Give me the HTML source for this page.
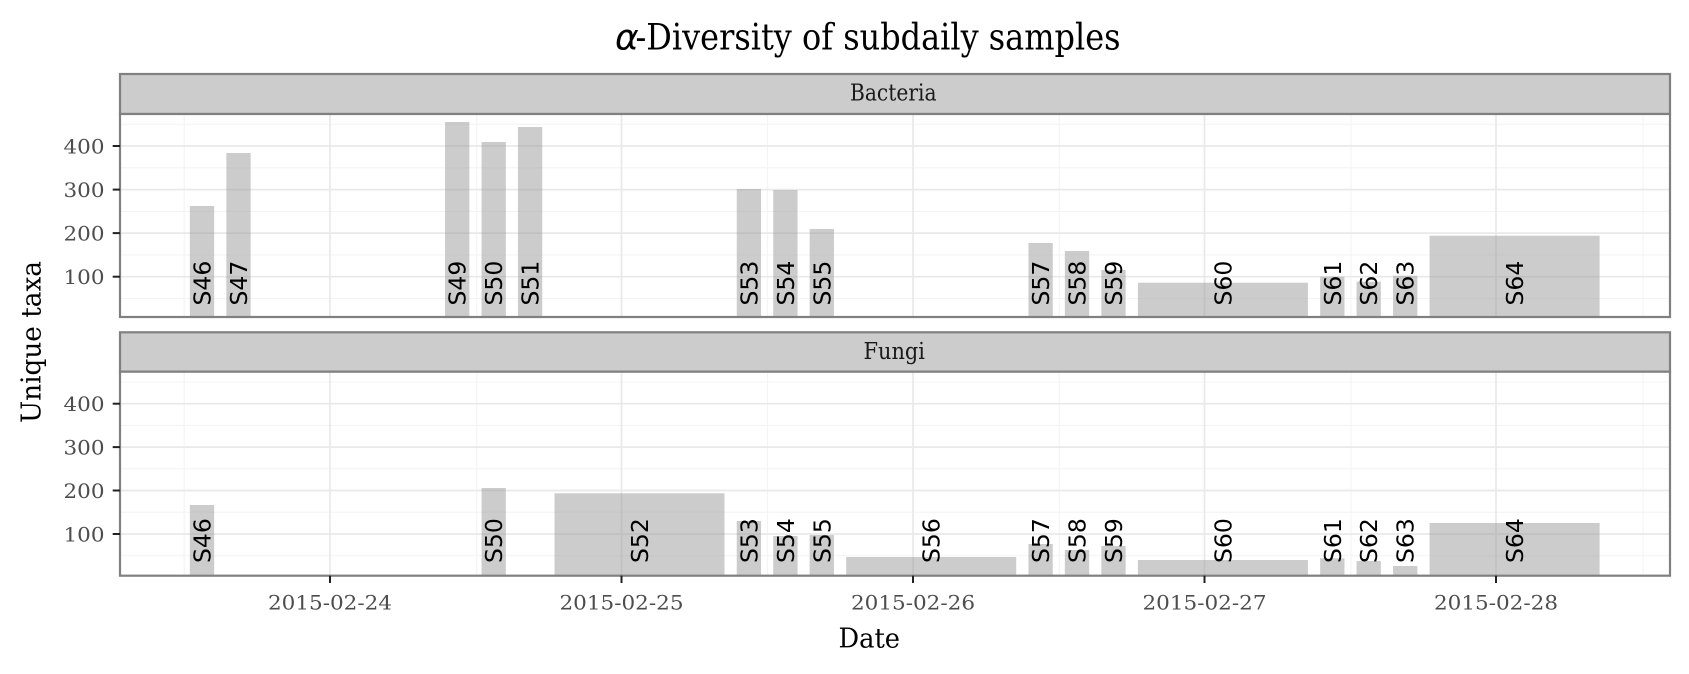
<!DOCTYPE html>
<html>
<head>
<meta charset="utf-8">
<style>
html,body{margin:0;padding:0;background:#fff;}
svg{display:block;}
</style>
</head>
<body>
<svg width="1689" height="674" viewBox="0 0 1689 674" xmlns="http://www.w3.org/2000/svg">
<rect x="0" y="0" width="1689" height="674" fill="#fff"/>

<!-- Title -->
<text x="615" y="49.3" font-family="DejaVu Sans, sans-serif" font-style="italic" font-size="36" fill="#000">α</text>
<text x="635.5" y="49.3" font-family="DejaVu Serif, serif" font-size="36" fill="#000" textLength="485" lengthAdjust="spacingAndGlyphs">-Diversity of subdaily samples</text>

<!-- ================= TOP PANEL ================= -->
<!-- strip -->
<rect x="120" y="74" width="1550" height="40" fill="#cccccc" stroke="#808080" stroke-width="2.2"/>
<text x="850" y="100.7" font-family="DejaVu Serif, serif" font-size="23" fill="#1a1a1a" textLength="86.6" lengthAdjust="spacingAndGlyphs">Bacteria</text>

<!-- panel bg -->
<rect x="120" y="114" width="1550" height="203" fill="#fff"/>
<g stroke="#f4f4f4" stroke-width="1.1">
  <line x1="120" x2="1670" y1="298.5" y2="298.5"/>
  <line x1="120" x2="1670" y1="254.9" y2="254.9"/>
  <line x1="120" x2="1670" y1="211.4" y2="211.4"/>
  <line x1="120" x2="1670" y1="167.8" y2="167.8"/>
  <line x1="120" x2="1670" y1="124.2" y2="124.2"/>
  <line y1="114" y2="317" x1="184.2" x2="184.2"/>
  <line y1="114" y2="317" x1="476.7" x2="476.7"/>
  <line y1="114" y2="317" x1="767.5" x2="767.5"/>
  <line y1="114" y2="317" x1="1059.3" x2="1059.3"/>
  <line y1="114" y2="317" x1="1351" x2="1351"/>
  <line y1="114" y2="317" x1="1643" x2="1643"/>
</g>
<g stroke="#e9e9e9" stroke-width="1.7">
  <line x1="120" x2="1670" y1="276.7" y2="276.7"/>
  <line x1="120" x2="1670" y1="233.1" y2="233.1"/>
  <line x1="120" x2="1670" y1="189.6" y2="189.6"/>
  <line x1="120" x2="1670" y1="146" y2="146"/>
  <line y1="114" y2="317" x1="330" x2="330"/>
  <line y1="114" y2="317" x1="621.5" x2="621.5"/>
  <line y1="114" y2="317" x1="913" x2="913"/>
  <line y1="114" y2="317" x1="1204.5" x2="1204.5"/>
  <line y1="114" y2="317" x1="1496" x2="1496"/>
</g>
<!-- bars top -->
<g fill="#999999" fill-opacity="0.5">
  <rect x="189.85" y="206" width="24.3" height="111"/>
  <rect x="226.35" y="153" width="24.3" height="164"/>
  <rect x="445.05" y="122" width="24.3" height="195"/>
  <rect x="481.55" y="142" width="24.3" height="175"/>
  <rect x="517.95" y="127" width="24.3" height="190"/>
  <rect x="736.75" y="189" width="24.3" height="128"/>
  <rect x="773.25" y="190" width="24.3" height="127"/>
  <rect x="809.65" y="229" width="24.3" height="88"/>
  <rect x="1028.45" y="243" width="24.3" height="74"/>
  <rect x="1064.85" y="251" width="24.3" height="66"/>
  <rect x="1101.35" y="270" width="24.3" height="47"/>
  <rect x="1137.9" y="282.7" width="170" height="34.3"/>
  <rect x="1320.15" y="276.7" width="24.3" height="40.3"/>
  <rect x="1356.55" y="281.7" width="24.3" height="35.3"/>
  <rect x="1393.05" y="275.7" width="24.3" height="41.3"/>
  <rect x="1429.6" y="235.7" width="170" height="81.3"/>
</g>
<!-- labels top -->
<g font-family="DejaVu Sans, sans-serif" font-size="23.5" fill="#000">
  <text transform="translate(210.5,305.5) rotate(-90)">S46</text>
  <text transform="translate(247,305.5) rotate(-90)">S47</text>
  <text transform="translate(465.7,305.5) rotate(-90)">S49</text>
  <text transform="translate(502.2,305.5) rotate(-90)">S50</text>
  <text transform="translate(538.6,305.5) rotate(-90)">S51</text>
  <text transform="translate(757.4,305.5) rotate(-90)">S53</text>
  <text transform="translate(793.9,305.5) rotate(-90)">S54</text>
  <text transform="translate(830.3,305.5) rotate(-90)">S55</text>
  <text transform="translate(1049.1,305.5) rotate(-90)">S57</text>
  <text transform="translate(1085.5,305.5) rotate(-90)">S58</text>
  <text transform="translate(1122,305.5) rotate(-90)">S59</text>
  <text transform="translate(1231.4,305.5) rotate(-90)">S60</text>
  <text transform="translate(1340.8,305.5) rotate(-90)">S61</text>
  <text transform="translate(1377.2,305.5) rotate(-90)">S62</text>
  <text transform="translate(1413.7,305.5) rotate(-90)">S63</text>
  <text transform="translate(1523.1,305.5) rotate(-90)">S64</text>
</g>
<rect x="120" y="114" width="1550" height="203" fill="none" stroke="#808080" stroke-width="2.2"/>
<!-- y ticks top -->
<g stroke="#222" stroke-width="2">
  <line x1="112.7" x2="120" y1="276.7" y2="276.7"/>
  <line x1="112.7" x2="120" y1="233.1" y2="233.1"/>
  <line x1="112.7" x2="120" y1="189.6" y2="189.6"/>
  <line x1="112.7" x2="120" y1="146" y2="146"/>
</g>
<g font-family="DejaVu Serif, serif" font-size="20" fill="#4d4d4d" text-anchor="end">
  <text x="104.5" y="284.2" textLength="41" lengthAdjust="spacingAndGlyphs">100</text>
  <text x="104.5" y="240.6" textLength="41" lengthAdjust="spacingAndGlyphs">200</text>
  <text x="104.5" y="197.1" textLength="41" lengthAdjust="spacingAndGlyphs">300</text>
  <text x="104.5" y="153.5" textLength="41" lengthAdjust="spacingAndGlyphs">400</text>
</g>

<!-- ================= BOTTOM PANEL ================= -->
<rect x="120" y="332.3" width="1550" height="39.4" fill="#cccccc" stroke="#808080" stroke-width="2.2"/>
<text x="863.5" y="359" font-family="DejaVu Serif, serif" font-size="23" fill="#1a1a1a" textLength="61.5" lengthAdjust="spacingAndGlyphs">Fungi</text>

<rect x="120" y="371.7" width="1550" height="204" fill="#fff"/>
<g stroke="#f4f4f4" stroke-width="1.1">
  <line x1="120" x2="1670" y1="555.7" y2="555.7"/>
  <line x1="120" x2="1670" y1="512.3" y2="512.3"/>
  <line x1="120" x2="1670" y1="468.8" y2="468.8"/>
  <line x1="120" x2="1670" y1="425.4" y2="425.4"/>
  <line x1="120" x2="1670" y1="382" y2="382"/>
  <line y1="371.7" y2="575.7" x1="184.2" x2="184.2"/>
  <line y1="371.7" y2="575.7" x1="476.7" x2="476.7"/>
  <line y1="371.7" y2="575.7" x1="767.5" x2="767.5"/>
  <line y1="371.7" y2="575.7" x1="1059.3" x2="1059.3"/>
  <line y1="371.7" y2="575.7" x1="1351" x2="1351"/>
  <line y1="371.7" y2="575.7" x1="1643" x2="1643"/>
</g>
<g stroke="#e9e9e9" stroke-width="1.7">
  <line x1="120" x2="1670" y1="534" y2="534"/>
  <line x1="120" x2="1670" y1="490.5" y2="490.5"/>
  <line x1="120" x2="1670" y1="447.1" y2="447.1"/>
  <line x1="120" x2="1670" y1="403.7" y2="403.7"/>
  <line y1="371.7" y2="575.7" x1="330" x2="330"/>
  <line y1="371.7" y2="575.7" x1="621.5" x2="621.5"/>
  <line y1="371.7" y2="575.7" x1="913" x2="913"/>
  <line y1="371.7" y2="575.7" x1="1204.5" x2="1204.5"/>
  <line y1="371.7" y2="575.7" x1="1496" x2="1496"/>
</g>
<g fill="#999999" fill-opacity="0.5">
  <rect x="189.85" y="505" width="24.3" height="70.7"/>
  <rect x="481.55" y="488" width="24.3" height="87.7"/>
  <rect x="554.5" y="493.3" width="170" height="82.4"/>
  <rect x="736.75" y="521" width="24.3" height="54.7"/>
  <rect x="773.25" y="536" width="24.3" height="39.7"/>
  <rect x="809.65" y="535" width="24.3" height="40.7"/>
  <rect x="846.2" y="557" width="170" height="18.7"/>
  <rect x="1028.45" y="544" width="24.3" height="31.7"/>
  <rect x="1064.85" y="550" width="24.3" height="25.7"/>
  <rect x="1101.35" y="546" width="24.3" height="29.7"/>
  <rect x="1137.9" y="560" width="170" height="15.7"/>
  <rect x="1320.15" y="558.3" width="24.3" height="17.4"/>
  <rect x="1356.55" y="561" width="24.3" height="14.7"/>
  <rect x="1393.05" y="566" width="24.3" height="9.7"/>
  <rect x="1429.6" y="523" width="170" height="52.7"/>
</g>
<g font-family="DejaVu Sans, sans-serif" font-size="23.5" fill="#000">
  <text transform="translate(210.5,563) rotate(-90)">S46</text>
  <text transform="translate(502.2,563) rotate(-90)">S50</text>
  <text transform="translate(648,563) rotate(-90)">S52</text>
  <text transform="translate(757.4,563) rotate(-90)">S53</text>
  <text transform="translate(793.9,563) rotate(-90)">S54</text>
  <text transform="translate(830.3,563) rotate(-90)">S55</text>
  <text transform="translate(939.7,563) rotate(-90)">S56</text>
  <text transform="translate(1049.1,563) rotate(-90)">S57</text>
  <text transform="translate(1085.5,563) rotate(-90)">S58</text>
  <text transform="translate(1122,563) rotate(-90)">S59</text>
  <text transform="translate(1231.4,563) rotate(-90)">S60</text>
  <text transform="translate(1340.8,563) rotate(-90)">S61</text>
  <text transform="translate(1377.2,563) rotate(-90)">S62</text>
  <text transform="translate(1413.7,563) rotate(-90)">S63</text>
  <text transform="translate(1523.1,563) rotate(-90)">S64</text>
</g>
<rect x="120" y="371.7" width="1550" height="204" fill="none" stroke="#808080" stroke-width="2.2"/>
<g stroke="#222" stroke-width="2">
  <line x1="112.7" x2="120" y1="534" y2="534"/>
  <line x1="112.7" x2="120" y1="490.5" y2="490.5"/>
  <line x1="112.7" x2="120" y1="447.1" y2="447.1"/>
  <line x1="112.7" x2="120" y1="403.7" y2="403.7"/>
  <line y1="575.7" y2="583" x1="330" x2="330"/>
  <line y1="575.7" y2="583" x1="621.5" x2="621.5"/>
  <line y1="575.7" y2="583" x1="913" x2="913"/>
  <line y1="575.7" y2="583" x1="1204.5" x2="1204.5"/>
  <line y1="575.7" y2="583" x1="1496" x2="1496"/>
</g>
<g font-family="DejaVu Serif, serif" font-size="20" fill="#4d4d4d" text-anchor="end">
  <text x="104.5" y="541.5" textLength="41" lengthAdjust="spacingAndGlyphs">100</text>
  <text x="104.5" y="498" textLength="41" lengthAdjust="spacingAndGlyphs">200</text>
  <text x="104.5" y="454.6" textLength="41" lengthAdjust="spacingAndGlyphs">300</text>
  <text x="104.5" y="411.2" textLength="41" lengthAdjust="spacingAndGlyphs">400</text>
</g>
<g font-family="DejaVu Serif, serif" font-size="20" fill="#4d4d4d">
  <text x="268" y="609.3" textLength="124" lengthAdjust="spacingAndGlyphs">2015-02-24</text>
  <text x="559.5" y="609.3" textLength="124" lengthAdjust="spacingAndGlyphs">2015-02-25</text>
  <text x="851" y="609.3" textLength="124" lengthAdjust="spacingAndGlyphs">2015-02-26</text>
  <text x="1142.5" y="609.3" textLength="124" lengthAdjust="spacingAndGlyphs">2015-02-27</text>
  <text x="1434" y="609.3" textLength="124" lengthAdjust="spacingAndGlyphs">2015-02-28</text>
</g>

<!-- Axis titles -->
<text x="838.5" y="647.7" font-family="DejaVu Serif, serif" font-size="27" fill="#000" textLength="61.5" lengthAdjust="spacingAndGlyphs">Date</text>
<text transform="translate(40.4,423) rotate(-90)" font-family="DejaVu Serif, serif" font-size="27" fill="#000" textLength="162" lengthAdjust="spacingAndGlyphs">Unique taxa</text>
</svg>
</body>
</html>
